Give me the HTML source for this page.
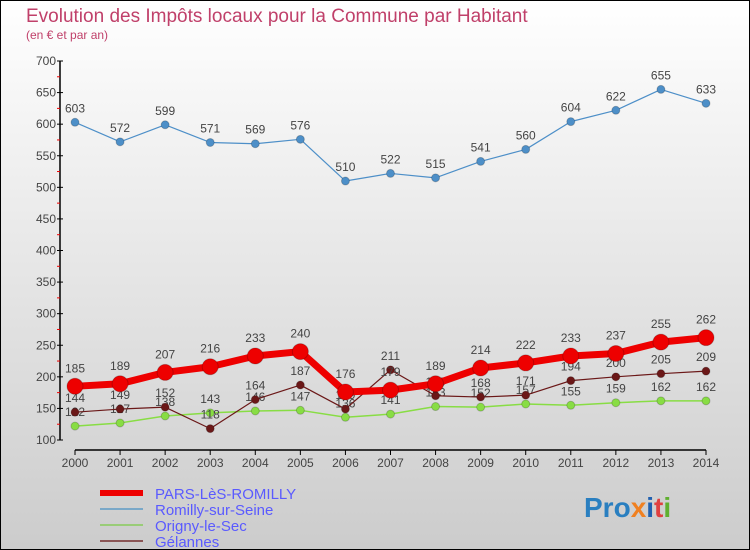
<!DOCTYPE html>
<html><head><meta charset="utf-8"><style>
body{margin:0}
#c{width:750px;height:550px;position:relative;overflow:hidden;font-family:"Liberation Sans",sans-serif}
</style></head><body>
<div id="c">
<svg id="s" width="750" height="550" xmlns="http://www.w3.org/2000/svg">
<defs><linearGradient id="bg" x1="0" y1="0" x2="0" y2="1"><stop offset="0" stop-color="#ffffff"/><stop offset="1" stop-color="#cccccc"/></linearGradient></defs>
<rect x="0" y="0" width="750" height="550" fill="url(#bg)"/>
<rect x="0.5" y="0.5" width="749" height="549" fill="none" stroke="#000"/>
<text x="26" y="22" font-size="19" fill="#c0406a">Evolution des Impôts locaux pour la Commune par Habitant</text>
<text x="26" y="39" font-size="12" fill="#c0406a">(en € et par an)</text>
<g id="axes"></g><g id="series"></g><g id="legend"></g>
<text x="584" y="517" font-size="28" font-weight="bold"><tspan fill="#2a7fc0">Pro</tspan><tspan fill="#f08020">x</tspan><tspan fill="#2060b0">i</tspan><tspan fill="#e04040">t</tspan><tspan fill="#60b030">i</tspan></text>
</svg>
</div>
<script>
const years=[2000,2001,2002,2003,2004,2005,2006,2007,2008,2009,2010,2011,2012,2013,2014];
const yTicks=[100,150,200,250,300,350,400,450,500,550,600,650,700];
const pars=[185,189,207,216,233,240,176,179,189,214,222,233,237,255,262];
const romilly=[603,572,599,571,569,576,510,522,515,541,560,604,622,655,633];
const origny=[122,127,138,143,146,147,136,141,153,152,157,155,159,162,162];
const gelannes=[144,149,152,118,164,187,149,211,170,168,171,194,200,205,209];
const NS="http://www.w3.org/2000/svg";
function X(i){return 75+i*(706-75)/(years.length-1);}
function Y(v){return 440-(v-100)*(440-61)/600;}
function mk(t,a,p){const e=document.createElementNS(NS,t);for(const k in a)e.setAttribute(k,a[k]);p.appendChild(e);return e;}
const ax=document.getElementById('axes');
let e=mk('line',{x1:60,y1:61,x2:60,y2:440,stroke:'#000','stroke-width':1.5},ax);


yTicks.forEach((v,i)=>{
 mk('line',{x1:57,y1:Y(v),x2:63,y2:Y(v),stroke:'#000'},ax);
 if(i<yTicks.length-1)mk('line',{x1:57,y1:Y(v+25),x2:60,y2:Y(v+25),stroke:'#e00'},ax);
 const t=mk('text',{x:56,y:Y(v)+4,'font-size':12,fill:'#444','text-anchor':'end'},ax);
 t.textContent=v;
 
 
});
e=mk('line',{x1:75,y1:450,x2:706,y2:450,stroke:'#000','stroke-width':1.5},ax);


years.forEach((y,i)=>{
 mk('line',{x1:X(i),y1:450,x2:X(i),y2:455,stroke:'#000'},ax);
 const t=mk('text',{x:X(i),y:467,'font-size':12,fill:'#444','text-anchor':'middle'},ax);
 t.textContent=y;
 
 
});
const sg=document.getElementById('series');
function draw(vals,name,color,w,r,labels){
 const g=mk('g',{},sg);
 
 
 const pl=mk('polyline',{points:vals.map((v,i)=>X(i)+','+Y(v)).join(' '),fill:'none',stroke:color,'stroke-width':w,'stroke-linejoin':'round'},g);
 
 
 vals.forEach((v,i)=>{
  const c=mk('circle',{cx:X(i),cy:Y(v),r:r,fill:color,stroke:'rgba(0,0,0,0.2)'},g);
  
  
  if(labels){const t=mk('text',{x:X(i),y:Y(v)-r-6,'font-size':12,fill:'#444','text-anchor':'middle'},g);
  t.textContent=v;
  
  }
 });
}
draw(origny,'origny-le-sec','#88dd44',1.5,4,true);
draw(gelannes,'gelannes','#6b1818',1.2,4,true);
draw(romilly,'romilly-sur-seine','#4d8fc8',1.2,4,true);
draw(pars,'pars-les-romilly','#ee0000',7,8,true);
const lg=document.getElementById('legend');
const leg=[['PARS-LèS-ROMILLY','#ee0000',6],['Romilly-sur-Seine','#7aa8c8',2],['Origny-le-Sec','#99cc77',2],['Gélannes','#8a5555',2]];
leg.forEach((l,i)=>{
 const y=493+i*16;
 const g=mk('g',{},lg);
 
 
 mk('line',{x1:100,y1:y,x2:143,y2:y,stroke:l[1],'stroke-width':l[2]},g);
 const t=mk('text',{x:155,y:y+6,'font-size':15,fill:'#5a5aff'},g);
 t.textContent=l[0];
});
</script>
</body></html>
